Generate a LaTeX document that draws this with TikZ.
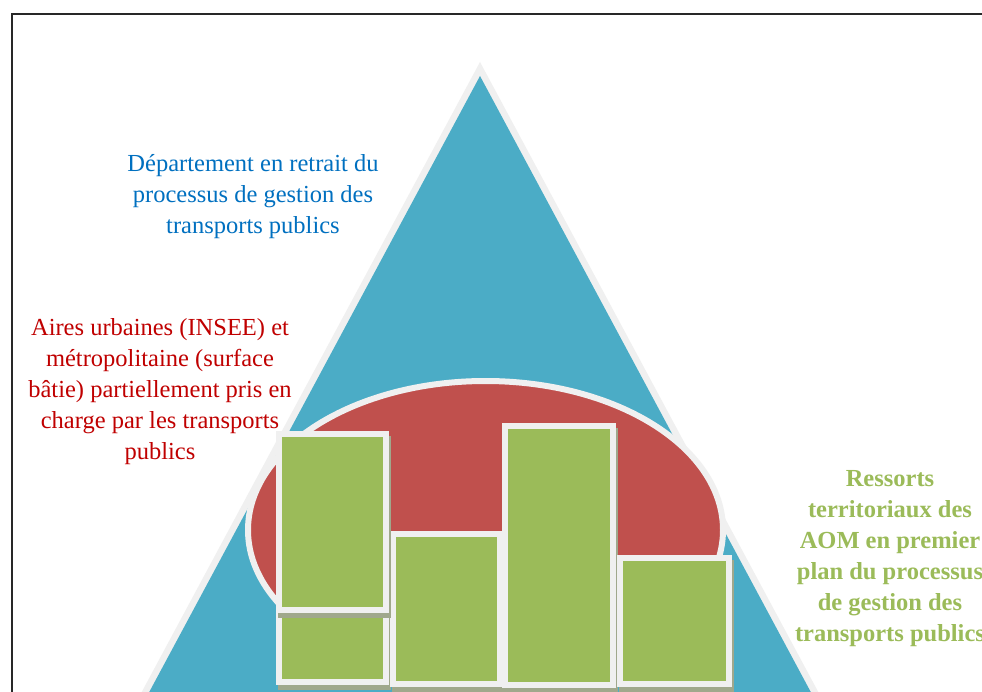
\documentclass[tikz,border=0pt]{standalone}
\usepackage{fontspec}
\setmainfont{Liberation Serif}
\definecolor{triblue}{RGB}{75,172,198}
\definecolor{ellred}{RGB}{192,80,77}
\definecolor{boxgreen}{RGB}{155,187,89}
\definecolor{edgegray}{RGB}{240,240,240}
\definecolor{shadowc}{RGB}{160,168,140}
\definecolor{txtblue}{RGB}{0,112,192}
\definecolor{txtred}{RGB}{192,0,0}
\definecolor{framec}{RGB}{40,40,40}
\tikzset{
  gbox/.style={draw=edgegray, line width=6pt, fill=boxgreen,
    preaction={draw=shadowc, fill=shadowc, line width=6pt,
      transform canvas={shift={(1.5pt,-5pt)}}}},
  lbl/.style={align=center, inner sep=0pt,
    font=\fontsize{24.5}{31}\selectfont}
}
\begin{document}
\begin{tikzpicture}[x=1pt,y=-1pt]
\useasboundingbox (0,0) rectangle (982,692);
\clip (0,0) rectangle (982,692);
\fill[white] (0,0) rectangle (982,692);
% frame
\draw[framec, line width=2pt] (12,14) rectangle (1100,800);
% triangle
\fill[edgegray] (480,62) -- (833.3,720) -- (126.7,720) -- cycle;
\fill[triblue] (480,76) -- (825.8,720) -- (134.2,720) -- cycle;
% ellipse
\draw[edgegray, line width=6pt, fill=ellred] (485.5,530) ellipse [x radius=237.5, y radius=149];
% boxes
\draw[gbox] (279,603) rectangle (386,682);
\draw[gbox] (393,534) rectangle (500,684);
\draw[gbox] (505,426) rectangle (613,685);
\draw[gbox] (620,558) rectangle (729,684);
\draw[gbox] (279,434) rectangle (386,610);
% texts
\node[lbl, text=txtblue] (dep) at (253,197) {Département en retrait du\\processus de gestion des\\transports publics};
\node[lbl, text=txtred] (aires) at (160,392) {Aires urbaines (INSEE) et\\métropolitaine (surface\\bâtie) partiellement pris en\\charge par les transports\\publics};
\node[lbl, text=boxgreen, font=\fontsize{24.5}{31}\selectfont\bfseries] (aom) at (890,558.5) {Ressorts\\territoriaux des\\AOM en premier\\plan du processus\\de gestion des\\transports publics};
\end{tikzpicture}
\end{document}
